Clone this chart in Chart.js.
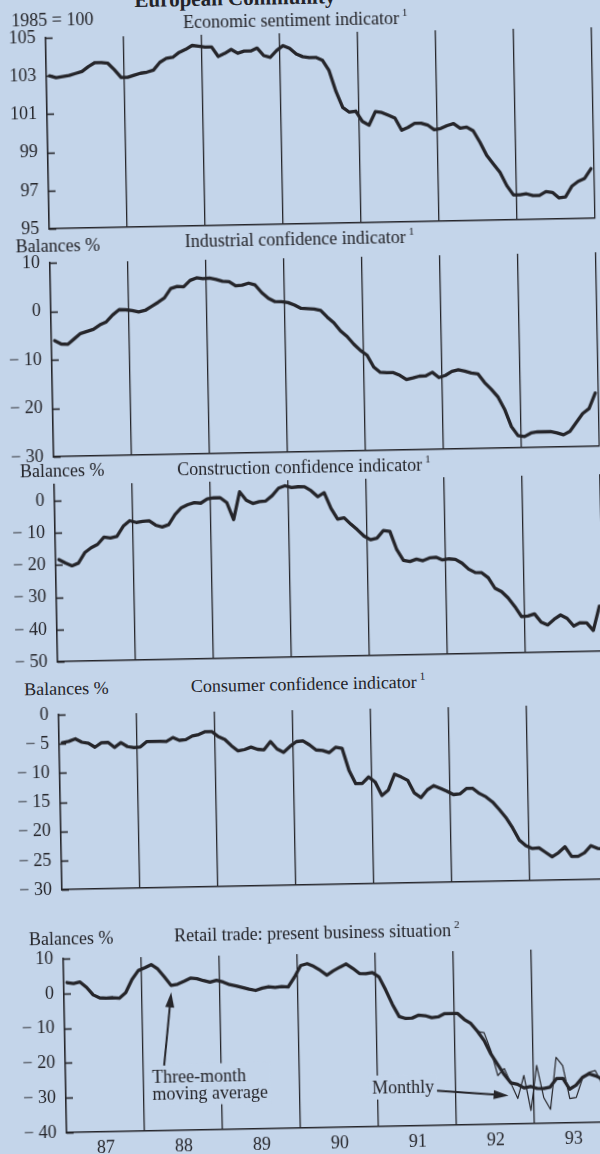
<!DOCTYPE html>
<html>
<head>
<meta charset="utf-8">
<title>European Community - business and consumer surveys</title>
<script src="https://cdn.jsdelivr.net/npm/chart.js@4.4.1/dist/chart.umd.min.js"></script>
<style>
  html, body { margin: 0; padding: 0; width: 600px; height: 1154px; overflow: hidden; background: #c4d5ea; }
  #page { position: absolute; left: 0; top: 0; width: 600px; height: 1154px;
          transform: rotate(-1.1deg); transform-origin: 300px 577px;
          font-family: 'Liberation Serif', 'Times New Roman', serif; color: #232328; }
  canvas { position: absolute; left: 0; }
  .lbl { position: absolute; white-space: nowrap; font-size: 18px; line-height: 1; }
  .ttl { position: absolute; white-space: nowrap; font-size: 18px; line-height: 1; transform: translateX(-50%); }
  .head { position: absolute; white-space: nowrap; font-size: 21px; font-weight: bold; line-height: 1; transform: translateX(-50%); }
  sup { font-size: 11px; line-height: 0; vertical-align: 8px; margin-left: 3px; }
</style>
</head>
<body>
<div id="page">
  <canvas id="c1"></canvas>
  <canvas id="c2"></canvas>
  <canvas id="c3"></canvas>
  <canvas id="c4"></canvas>
  <canvas id="c5"></canvas>

  <div class="head" style="left:246px;top:-13px">European Community</div>
  <div class="lbl" style="left:22px;top:6px">1985 = 100</div>
  <div class="ttl" style="left:306px;top:11px">Economic sentiment indicator<sup>1</sup></div>
  <div class="lbl" style="left:22px;top:232px">Balances %</div>
  <div class="ttl" style="left:306px;top:230px">Industrial confidence indicator<sup>1</sup></div>
  <div class="lbl" style="left:22px;top:457px">Balances %</div>
  <div class="ttl" style="left:306px;top:458px">Construction confidence indicator<sup>1</sup></div>
  <div class="lbl" style="left:22px;top:675px">Balances %</div>
  <div class="ttl" style="left:306px;top:675px">Consumer confidence indicator<sup>1</sup></div>
  <div class="lbl" style="left:22px;top:925px">Balances %</div>
  <div class="ttl" style="left:310px;top:924px">Retail trade: present business situation<sup>2</sup></div>
</div>

<script>
// monthly values, Jan 1987 .. Dec 1993
const yearLabels = ['87', '88', '89', '90', '91', '92', '93'];

const econSentiment = [
  103.0, 102.9, 102.95, 103.0, 103.1, 103.2, 103.45, 103.65, 103.65, 103.6, 103.25, 102.85,
  102.85, 102.95, 103.05, 103.1, 103.2, 103.6, 103.8, 103.85, 104.1, 104.25, 104.45, 104.4,
  104.35, 104.35, 103.85, 104.0, 104.2, 104.0, 104.1, 104.1, 104.25, 103.85, 103.75, 104.1,
  104.35, 104.2, 103.9, 103.75, 103.7, 103.7, 103.55, 103.0, 101.9, 101.05, 100.8, 100.85,
  100.3, 100.1, 100.8, 100.75, 100.6, 100.45, 99.8, 99.95, 100.15, 100.15, 100.05, 99.8,
  99.85, 100.0, 100.1, 99.85, 99.9, 99.7, 99.1, 98.4, 97.95, 97.5, 96.8, 96.3,
  96.3, 96.35, 96.25, 96.25, 96.45, 96.4, 96.1, 96.15, 96.7, 96.95, 97.1, 97.6
];

const industrial = [
  -6.1, -6.8, -6.9, -5.8, -4.7, -4.3, -3.9, -3.0, -2.4, -1.0, 0.05, 0.0,
  -0.2, -0.5, -0.2, 0.6, 1.4, 2.3, 4.2, 4.6, 4.5, 5.8, 6.3, 6.1,
  6.2, 5.9, 5.5, 5.4, 4.5, 4.6, 5.0, 4.6, 3.0, 1.8, 1.1, 1.05,
  0.85, 0.3, -0.4, -0.5, -0.6, -0.9, -2.3, -3.5, -5.2, -6.4, -8.0, -9.3,
  -10.3, -12.8, -13.9, -14.0, -14.0, -14.6, -15.5, -15.2, -14.85, -14.8, -14.1, -15.2,
  -14.8, -14.0, -13.7, -14.0, -14.4, -14.6, -16.4, -17.8, -19.4, -22.0, -25.6, -27.5,
  -27.7, -27.0, -26.8, -26.8, -26.8, -27.1, -27.5, -26.8, -25.0, -23.2, -22.2, -19.0
];

const construction = [
  -18.3, -19.4, -20.3, -19.5, -16.3, -14.8, -13.8, -11.6, -11.9, -11.4, -8.3, -6.65,
  -7.2, -6.9, -6.8, -8.2, -8.8, -8.1, -5.0, -2.9, -2.0, -1.4, -1.6, -0.3,
  0.0, -0.05, -1.6, -6.9, 1.7, -1.0, -2.0, -1.5, -1.3, 0.3, 2.6, 3.3,
  2.7, 2.9, 2.85, 1.6, -0.3, 0.9, -4.0, -7.4, -7.0, -9.0, -10.8, -12.8,
  -14.0, -13.5, -11.2, -11.5, -17.2, -20.6, -21.0, -20.3, -20.8, -20.0, -19.8, -20.7,
  -20.4, -20.6, -21.8, -23.7, -24.8, -24.9, -26.5, -29.8, -30.9, -32.9, -35.6, -38.8,
  -38.6, -38.0, -40.6, -41.5, -39.8, -38.5, -39.6, -42.0, -41.0, -41.1, -43.5, -36.0
];

const consumer = [
  -4.8, -4.6, -4.2, -4.8, -5.0, -5.7, -4.95, -4.9, -5.8, -5.0, -5.7, -5.9,
  -5.8, -4.9, -4.9, -4.9, -4.95, -4.3, -4.8, -4.7, -4.1, -3.87, -3.4, -3.4,
  -4.3, -4.8, -5.9, -6.8, -6.6, -6.2, -6.6, -6.7, -5.3, -6.6, -7.2, -6.2,
  -5.4, -5.3, -6.0, -6.9, -7.0, -7.4, -6.5, -6.7, -10.5, -12.8, -12.8, -11.7,
  -12.6, -14.9, -14.0, -11.3, -11.8, -12.4, -14.6, -15.4, -14.1, -13.4, -13.9, -14.4,
  -15.0, -14.9, -14.0, -14.0, -14.9, -15.5, -16.4, -17.7, -19.1, -20.9, -23.0, -24.0,
  -24.5, -24.4, -25.2, -26.0, -25.3, -24.3, -26.0, -26.0, -25.4, -24.2, -24.7, -24.8
];

const retailAvg = [
  3.1, 2.8, 3.2, 1.6, -0.6, -1.5, -1.6, -1.5, -1.7, -0.1, 3.6, 6.15,
  6.9, 7.8, 6.5, 4.2, 1.7, 2.0, 2.8, 3.7, 3.5, 2.9, 2.4, 2.9,
  2.4, 1.6, 1.2, 0.7, 0.2, -0.2, 0.4, 0.8, 0.55, 0.75, 0.6, 3.4,
  6.7, 7.2, 6.4, 5.2, 3.8, 5.0, 6.0, 6.9, 5.6, 4.1, 4.0, 4.3,
  3.0, -0.8, -5.0, -8.5, -9.1, -9.0, -8.2, -8.4, -9.0, -8.8, -7.9, -7.9,
  -7.95, -9.7, -10.9, -13.2, -15.9, -19.8, -22.8, -25.8, -28.2, -28.6, -29.7, -29.3,
  -29.9, -30.0, -29.6, -27.2, -27.2, -30.3, -29.2, -27.0, -26.0, -26.6, -27.5, -27.8
];

// monthly retail figures are only drawn from April 1992 on
const retailMonthlyFrom = 63;
const retailMonthly = [
  -13.2, -13.6, -18.8, -26.0, -24.0, -28.4, -32.7, -26.1, -36.2, -23.3, -32.6,
  -36.0, -21.1, -23.5, -33.0, -32.7, -27.3, -25.6, -25.1, -28.9, -29.6
];

const INK = '#25252a';
const BG = '#c4d5ea';
const SERIF = "'Liberation Serif', 'Times New Roman', serif";

function toPoints(values, first) {
  return values.map(function (v, i) { return { x: first + i + 0.5, y: v }; });
}

function fmtTick(v) {
  return v < 0 ? '\u2212 ' + Math.abs(v) : String(v);
}

// short tick marks pointing into the plot, like the printed chart
const inwardTicks = {
  id: 'inwardTicks',
  afterDraw(chart) {
    const y = chart.scales.y, ctx = chart.ctx, left = chart.chartArea.left;
    ctx.save();
    ctx.strokeStyle = INK;
    ctx.lineWidth = 1.6;
    y.ticks.forEach(function (t) {
      const py = Math.round(y.getPixelForValue(t.value)) + 0.5;
      ctx.beginPath();
      ctx.moveTo(left, py);
      ctx.lineTo(left + 7, py);
      ctx.stroke();
    });
    ctx.restore();
  }
};

function drawArrow(ctx, x0, y0, x1, y1) {
  const a = Math.atan2(y1 - y0, x1 - x0), L = 15, W = 4.5;
  ctx.beginPath();
  ctx.moveTo(x0, y0);
  ctx.lineTo(x1 - L * 0.7 * Math.cos(a), y1 - L * 0.7 * Math.sin(a));
  ctx.stroke();
  ctx.beginPath();
  ctx.moveTo(x1, y1);
  ctx.lineTo(x1 - L * Math.cos(a) + W * Math.sin(a), y1 - L * Math.sin(a) - W * Math.cos(a));
  ctx.lineTo(x1 - L * Math.cos(a) - W * Math.sin(a), y1 - L * Math.sin(a) + W * Math.cos(a));
  ctx.closePath();
  ctx.fill();
}

function makeNotes(items) {
  return {
    id: 'notes',
    beforeDatasetsDraw(chart) {
      const ctx = chart.ctx, x = chart.scales.x, y = chart.scales.y;
      ctx.save();
      ctx.font = '18px ' + SERIF;
      ctx.fillStyle = BG;
      items.forEach(function (n) {
        const px = x.getPixelForValue(n.at[0]), py = y.getPixelForValue(n.at[1]);
        const w = Math.max.apply(null, n.text.map(function (t) { return ctx.measureText(t).width; }));
        ctx.fillRect(px - 3, py - 18, w + 6, (n.text.length - 1) * 17 + 24);
      });
      ctx.restore();
    },
    afterDatasetsDraw(chart) {
      const ctx = chart.ctx, x = chart.scales.x, y = chart.scales.y;
      ctx.save();
      ctx.font = '18px ' + SERIF;
      ctx.fillStyle = INK;
      ctx.strokeStyle = INK;
      ctx.lineWidth = 2;
      ctx.textBaseline = 'alphabetic';
      items.forEach(function (n) {
        const px = x.getPixelForValue(n.at[0]), py = y.getPixelForValue(n.at[1]);
        n.text.forEach(function (t, k) { ctx.fillText(t, px, py + k * 17); });
        drawArrow(ctx,
          x.getPixelForValue(n.tail[0]), y.getPixelForValue(n.tail[1]),
          x.getPixelForValue(n.tip[0]), y.getPixelForValue(n.tip[1]));
      });
      ctx.restore();
    }
  };
}

const retailNotes = [
  { text: ['Three-month', 'moving average'], at: [13.3, -26.1], tail: [15.2, -21.3], tip: [16.5, -0.3] },
  { text: ['Monthly'], at: [47.1, -30.5], tail: [57.1, -30.0], tip: [68.1, -31.8] }
];

const panels = [
  { id: 'c1', top: 33, bottom: 224, min: 95, max: 105, step: 2,
    lines: [{ data: toPoints(econSentiment, 0), width: 3.3 }] },
  { id: 'c2', top: 258, bottom: 452, min: -30, max: 10, step: 10,
    lines: [{ data: toPoints(industrial, 0), width: 3.3 }] },
  { id: 'c3', top: 480, bottom: 657, min: -50, max: 5, step: 10, tickTop: 0,
    lines: [{ data: toPoints(construction, 0), width: 3.3 }] },
  { id: 'c4', top: 710, bottom: 885, min: -30, max: 0, step: 5,
    lines: [{ data: toPoints(consumer, 0), width: 3.3 }] },
  { id: 'c5', top: 954, bottom: 1128, min: -40, max: 10, step: 10, xLabels: true, notes: retailNotes,
    lines: [{ data: toPoints(retailAvg, 0), width: 3.3 },
            { data: toPoints(retailMonthly, retailMonthlyFrom), width: 1.2 }] }
];

// tick every half year: year boundaries get a grid line, mid-years get the label
const xTickValues = [];
for (let i = 0; i <= yearLabels.length * 2; i++) xTickValues.push(i * 6);

panels.forEach(function (p) {
  const el = document.getElementById(p.id);
  const padTop = 12, xh = p.xLabels ? 30 : 12;
  el.width = 606;
  el.height = Math.round(p.bottom - p.top) + padTop + xh;
  el.style.top = (p.top - padTop) + 'px';

  const plugins = [inwardTicks];
  if (p.notes) plugins.push(makeNotes(p.notes));

  new Chart(el, {
    type: 'line',
    data: {
      datasets: p.lines.map(function (l) {
        return {
          data: l.data, borderColor: INK, borderWidth: l.width, pointRadius: 0,
          tension: 0, fill: false, borderJoinStyle: 'round', borderCapStyle: 'round'
        };
      })
    },
    options: {
      responsive: false, animation: false, devicePixelRatio: 1,
      layout: { padding: { top: padTop, right: 4, left: 0, bottom: 0 } },
      plugins: { legend: { display: false }, tooltip: { enabled: false } },
      scales: {
        x: {
          type: 'linear', min: 0, max: yearLabels.length * 12,
          afterBuildTicks: function (s) { s.ticks = xTickValues.map(function (v) { return { value: v }; }); },
          afterFit: function (s) { s.height = xh; s.paddingLeft = 0; s.paddingRight = 0; },
          ticks: {
            display: !!p.xLabels, autoSkip: false, maxRotation: 0, padding: 5,
            color: INK, font: { family: SERIF, size: 18 },
            callback: function (v) { return v % 12 === 6 ? yearLabels[(v - 6) / 12] : ''; }
          },
          grid: {
            drawTicks: false, lineWidth: 1.3,
            color: function (c) { return (c.tick && c.tick.value % 12 === 0 && c.tick.value > 0) ? INK : 'rgba(0,0,0,0)'; }
          },
          border: { display: true, color: INK, width: 1.6 }
        },
        y: {
          min: p.min, max: p.max,
          afterBuildTicks: function (s) {
            if (p.tickTop !== undefined) s.ticks = s.ticks.filter(function (t) { return t.value <= p.tickTop; });
          },
          afterFit: function (s) { s.width = 56; s.paddingTop = 0; s.paddingBottom = 0; },
          ticks: { stepSize: p.step, padding: 10, color: INK, font: { family: SERIF, size: 18 }, callback: fmtTick },
          grid: { display: false, drawTicks: false },
          border: { display: true, color: INK, width: 1.6 }
        }
      }
    },
    plugins: plugins
  });
});
</script>
</body>
</html>
